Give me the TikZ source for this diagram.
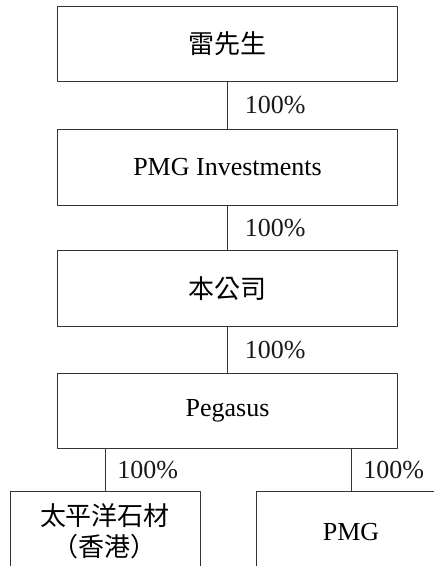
\documentclass[tikz,border=0pt]{standalone}
\usepackage{fontspec}
\setmainfont{Liberation Serif}
\newfontfamily\cjk{Noto Sans CJK TC}
\usetikzlibrary{positioning}
\begin{document}
\begin{tikzpicture}[x=1pt, y=1pt, font=\fontsize{26}{31}\selectfont, line join=round, line cap=round,
	box/.style={draw=black!80, line width=0.9pt, minimum width=340.4pt, minimum height=75.5pt, inner sep=0pt},
	subbox/.style={draw=black!80, line width=0.9pt, minimum width=190pt, minimum height=80pt, inner sep=0pt, align=center},
	pct/.style={right, inner sep=0pt, text=black!90}]
	\clip (0,0) rectangle (434,-566);
	
	\node[box] (lei) at (227.5,-43.8) {\cjk 雷先生};
	\node[box, below=47pt of lei] (pmginv) {PMG Investments};
	\node[box, below=45pt of pmginv] (company) {\cjk 本公司};
	\node[box, below=46pt of company] (pegasus) {Pegasus};
	
	\node[subbox] (pacific) at (105,-531.7) {\cjk 太平洋石材\\\cjk （香港）};
	\node[subbox] (pmg) at (351,-531.7) {PMG};
	
	\draw[draw=black!80, line width=0.9pt]
	(lei)--(pmginv)node[midway, pct, xshift=17pt]{100\%}
	(pmginv)--(company)node[midway, pct, xshift=17pt]{100\%}
	(company)--(pegasus)node[midway, pct, xshift=17pt]{100\%}
	(pegasus.south -| pacific)--(pacific)node[midway, pct, xshift=12pt]{100\%}
	(pegasus.south -| pmg)--(pmg)node[midway, pct, xshift=12pt]{100\%}
	;
\end{tikzpicture}
\end{document}
